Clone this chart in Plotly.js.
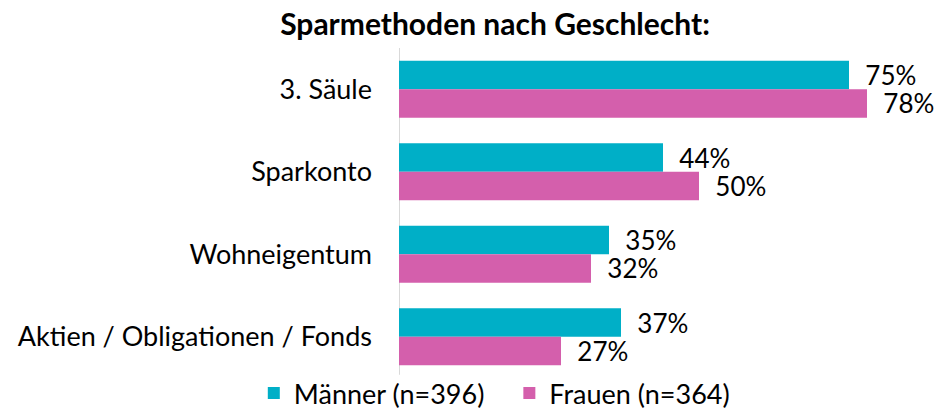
<!DOCTYPE html>
<html><head><meta charset="utf-8">
<script src="https://cdn.plot.ly/plotly-3.0.1.min.js"></script>
<style>html,body{margin:0;background:#fff;overflow:hidden}#c{width:952px;height:418px}</style>
</head><body><div id="c"></div>
<script>
const categories = ["3. Säule", "Sparkonto", "Wohneigentum", "Aktien / Obligationen / Fonds"];
const maenner = [75, 44, 35, 37];
const frauen = [78, 50, 32, 27];
const seriesNames = ["Männer (n=396)", "Frauen (n=364)"];
const colors = ["#00AFC7", "#D45FAC"];
const FONT = "Lato, 'Open Sans', sans-serif";

function lbl(v){ return v.map(x => "\u00a0\u00a0" + x + "%"); }

const traces = [
  {type:"bar", orientation:"h", name:seriesNames[0], legend:"legend", y:categories, x:maenner,
   marker:{color:colors[0]}, text:lbl(maenner), textposition:"outside", constraintext:"none",
   textfont:{size:26, color:"#000", family:FONT}, cliponaxis:false, hoverinfo:"x+y"},
  {type:"bar", orientation:"h", name:seriesNames[1], legend:"legend2", y:categories, x:frauen,
   marker:{color:colors[1]}, text:lbl(frauen), textposition:"outside", constraintext:"none",
   textfont:{size:26, color:"#000", family:FONT}, cliponaxis:false, hoverinfo:"x+y"}
];

const legendBase = {orientation:"h", xref:"paper", yref:"paper", y:0, xanchor:"left", yanchor:"bottom",
  font:{size:27, family:FONT, color:"#000"}, itemwidth:30, bgcolor:"rgba(0,0,0,0)"};

const layout = {
  width:952, height:418,
  margin:{l:399, r:25, t:48, b:0},
  paper_bgcolor:"#fff", plot_bgcolor:"#fff",
  font:{family:FONT, size:27, color:"#000"},
  title:{text:"<b>Sparmethoden nach Geschlecht:</b>", font:{size:30, family:FONT, color:"#000"},
         x:0.52, xref:"container", xanchor:"center", y:1 - 24/418, yref:"container", yanchor:"middle"},
  barmode:"group", bargap:0.31, bargroupgap:0,
  xaxis:{range:[0,88], showgrid:false, zeroline:false, showticklabels:false, showline:false, ticks:""},
  yaxis:{range:[3.985, -0.5], showgrid:false, zeroline:false, showline:false,
         ticks:"", ticklabelstandoff:26, tickfont:{size:27, family:FONT, color:"#000"}},
  shapes:[{type:"line", xref:"x", yref:"y", x0:0, x1:0, y0:-0.5, y1:3.46,
           line:{color:"#d9d9d9", width:2}, layer:"below"}],
  showlegend:true,
  legend:Object.assign({}, legendBase, {x:-0.275}),
  legend2:Object.assign({}, legendBase, {x:0.209})
};
Plotly.newPlot("c", traces, layout, {displayModeBar:false, staticPlot:true});
</script></body></html>
